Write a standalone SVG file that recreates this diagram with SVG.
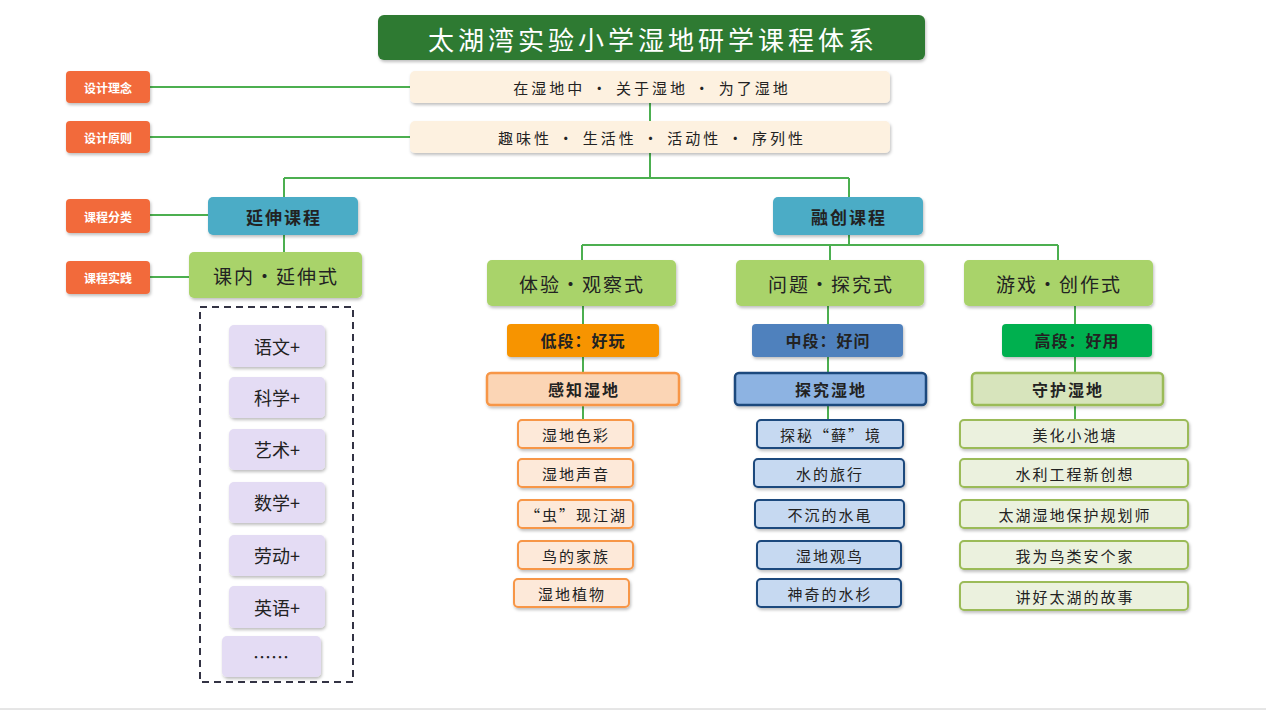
<svg xmlns="http://www.w3.org/2000/svg" width="1266" height="712" viewBox="0 0 1266 712">
<defs>
<filter id="sh" x="-10%" y="-20%" width="120%" height="150%"><feDropShadow dx="1" dy="2" stdDeviation="1.5" flood-color="#000" flood-opacity="0.25"/></filter>
</defs>
<style>
text{font-family:"Noto Sans CJK SC","Noto Sans",sans-serif;text-anchor:middle;dominant-baseline:central;fill:#222}
.ln{stroke:#4caf50;stroke-width:2;fill:none}
.lab rect{fill:#f26b3a;filter:url(#sh)}
.lab text{fill:#fff;font-size:12px;font-weight:bold}
.cr rect{fill:#fdf1e0;filter:url(#sh)}
.cr text{font-size:15px;letter-spacing:3px}
.cat rect{fill:#4bacc6;filter:url(#sh)}
.cat text{font-size:17px;font-weight:bold;letter-spacing:2px}
.mode rect{fill:#a9d36a;filter:url(#sh)}
.mode text{font-size:19px;letter-spacing:2px}
.lv text{font-size:16px;font-weight:bold;letter-spacing:1px}
.o rect{fill:#fde9d9;stroke:#f79646;stroke-width:2;filter:url(#sh)}
.b rect{fill:#c6d9f1;stroke:#1f497d;stroke-width:2;filter:url(#sh)}
.g rect{fill:#ebf1de;stroke:#9bbb59;stroke-width:2;filter:url(#sh)}
.leaf text{font-size:15px;letter-spacing:2px}
.sub text{font-size:16px;font-weight:bold;letter-spacing:2px}
.p rect{fill:#e4dcf4;filter:url(#sh)}
.p text{font-size:18px}
</style>
<rect x="0" y="0" width="1266" height="712" fill="#fff"/>
<line x1="0" y1="709" x2="1266" y2="709" stroke="#ccc"/>
<g id="connectors">
<path class="ln" d="M150 87H410M150 137H410M150 215H208M150 277H189"/>
<path class="ln" d="M650 103V121M650 153V178M284 178H849M284 178V197M849 178V197"/>
<path class="ln" d="M284 235V252M849 235V245M582 245H1058M582 245V260M830 245V260M1058 245V260"/>
<path class="ln" d="M583 306V324M583 357V373M583 405V420M828 306V324M828 357V373M828 405V420M1075 306V324M1075 357V373M1075 405V420"/>
</g>
<g id="title"><rect x="378" y="15" width="547" height="45" rx="6" fill="#2f7a32" filter="url(#sh)"/><text x="653" y="38" style="font-size:26px;fill:#fff;letter-spacing:4px">太湖湾实验小学湿地研学课程体系</text></g>
<g id="l1" class="lab"><rect x="66" y="71" width="84" height="32" rx="4"/><text x="108" y="87">设计理念</text></g>
<g id="l2" class="lab"><rect x="66" y="121" width="84" height="32" rx="4"/><text x="108" y="137">设计原则</text></g>
<g id="l3" class="lab"><rect x="66" y="199" width="84" height="34" rx="4"/><text x="108" y="216">课程分类</text></g>
<g id="l4" class="lab"><rect x="66" y="261" width="84" height="33" rx="4"/><text x="108" y="277">课程实践</text></g>
<g id="r1" class="cr"><rect x="410" y="71" width="480" height="32" rx="5"/><text x="652" y="87">在湿地中 • 关于湿地 • 为了湿地</text></g>
<g id="r2" class="cr"><rect x="410" y="121" width="480" height="32" rx="5"/><text x="652" y="137">趣味性 • 生活性 • 活动性 • 序列性</text></g>
<g id="c1" class="cat"><rect x="208" y="197" width="150" height="38" rx="5"/><text x="284" y="216">延伸课程</text></g>
<g id="c2" class="cat"><rect x="773" y="197" width="150" height="38" rx="5"/><text x="849" y="216">融创课程</text></g>
<g id="m0" class="mode"><rect x="189" y="252" width="173" height="46" rx="5"/><text x="276" y="275">课内•延伸式</text></g>
<g id="m1" class="mode"><rect x="487" y="260" width="189" height="46" rx="5"/><text x="582" y="283">体验•观察式</text></g>
<g id="m2" class="mode"><rect x="736" y="260" width="188" height="46" rx="5"/><text x="831" y="283">问题•探究式</text></g>
<g id="m3" class="mode"><rect x="964" y="260" width="189" height="46" rx="5"/><text x="1059" y="283">游戏•创作式</text></g>
<g id="v1" class="lv"><rect x="507" y="324" width="152" height="33" rx="4" fill="#f79406" filter="url(#sh)"/><text x="583" y="340">低段：好玩</text></g>
<g id="v2" class="lv"><rect x="752" y="324" width="151" height="33" rx="4" fill="#4f81bd" filter="url(#sh)"/><text x="828" y="340">中段：好问</text></g>
<g id="v3" class="lv"><rect x="1002" y="324" width="150" height="33" rx="4" fill="#00b050" filter="url(#sh)"/><text x="1077" y="340">高段：好用</text></g>
<g id="s1" class="sub"><rect x="487" y="373" width="192" height="32" rx="4" fill="#fbd5b5" stroke="#f79646" stroke-width="2.5" filter="url(#sh)"/><text x="584" y="389">感知湿地</text></g>
<g id="s2" class="sub"><rect x="735" y="373" width="191" height="32" rx="4" fill="#8db3e2" stroke="#1f497d" stroke-width="2.5" filter="url(#sh)"/><text x="831" y="389">探究湿地</text></g>
<g id="s3" class="sub"><rect x="972" y="373" width="191" height="32" rx="4" fill="#d7e4bc" stroke="#9bbb59" stroke-width="2.5" filter="url(#sh)"/><text x="1068" y="389">守护湿地</text></g>
<g class="leaf o">
<g id="o1"><rect x="518" y="420" width="115" height="28" rx="4"/><text x="576" y="434">湿地色彩</text></g>
<g id="o2"><rect x="518" y="459" width="115" height="28" rx="4"/><text x="576" y="473">湿地声音</text></g>
<g id="o3"><rect x="518" y="500" width="115" height="28" rx="4"/><text x="576" y="514">“虫”现江湖</text></g>
<g id="o4"><rect x="518" y="541" width="115" height="28" rx="4"/><text x="576" y="555">鸟的家族</text></g>
<g id="o5"><rect x="514" y="579" width="115" height="28" rx="4"/><text x="572" y="593">湿地植物</text></g>
</g>
<g class="leaf b">
<g id="b1"><rect x="757" y="420" width="146" height="28" rx="4"/><text x="831" y="434">探秘“藓”境</text></g>
<g id="b2"><rect x="754" y="459" width="150" height="28" rx="4"/><text x="830" y="473">水的旅行</text></g>
<g id="b3"><rect x="755" y="500" width="149" height="28" rx="4"/><text x="830" y="514">不沉的水黾</text></g>
<g id="b4"><rect x="757" y="541" width="144" height="28" rx="4"/><text x="830" y="555">湿地观鸟</text></g>
<g id="b5"><rect x="757" y="579" width="144" height="28" rx="4"/><text x="830" y="593">神奇的水杉</text></g>
</g>
<g class="leaf g">
<g id="g1"><rect x="960" y="420" width="228" height="28" rx="4"/><text x="1075" y="434">美化小池塘</text></g>
<g id="g2"><rect x="960" y="459" width="228" height="28" rx="4"/><text x="1075" y="473">水利工程新创想</text></g>
<g id="g3"><rect x="960" y="500" width="228" height="28" rx="4"/><text x="1075" y="514">太湖湿地保护规划师</text></g>
<g id="g4"><rect x="960" y="541" width="228" height="28" rx="4"/><text x="1075" y="555">我为鸟类安个家</text></g>
<g id="g5"><rect x="960" y="582" width="228" height="28" rx="4"/><text x="1075" y="596">讲好太湖的故事</text></g>
</g>
<g id="dash"><rect x="200" y="307" width="153" height="375" fill="none" stroke="#333344" stroke-width="2" stroke-dasharray="7,5"/></g>
<g class="p">
<g id="p1"><rect x="229" y="325" width="96" height="42" rx="5"/><text x="277" y="346">语文+</text></g>
<g id="p2"><rect x="229" y="377" width="96" height="41" rx="5"/><text x="277" y="397">科学+</text></g>
<g id="p3"><rect x="229" y="429" width="96" height="41" rx="5"/><text x="277" y="449">艺术+</text></g>
<g id="p4"><rect x="229" y="482" width="96" height="41" rx="5"/><text x="277" y="502">数学+</text></g>
<g id="p5"><rect x="229" y="535" width="96" height="41" rx="5"/><text x="277" y="555">劳动+</text></g>
<g id="p6"><rect x="229" y="586" width="96" height="42" rx="5"/><text x="277" y="607">英语+</text></g>
<g id="p7"><rect x="222" y="636" width="99" height="41" rx="5"/><text x="271" y="656">……</text></g>
</g>
</svg>
